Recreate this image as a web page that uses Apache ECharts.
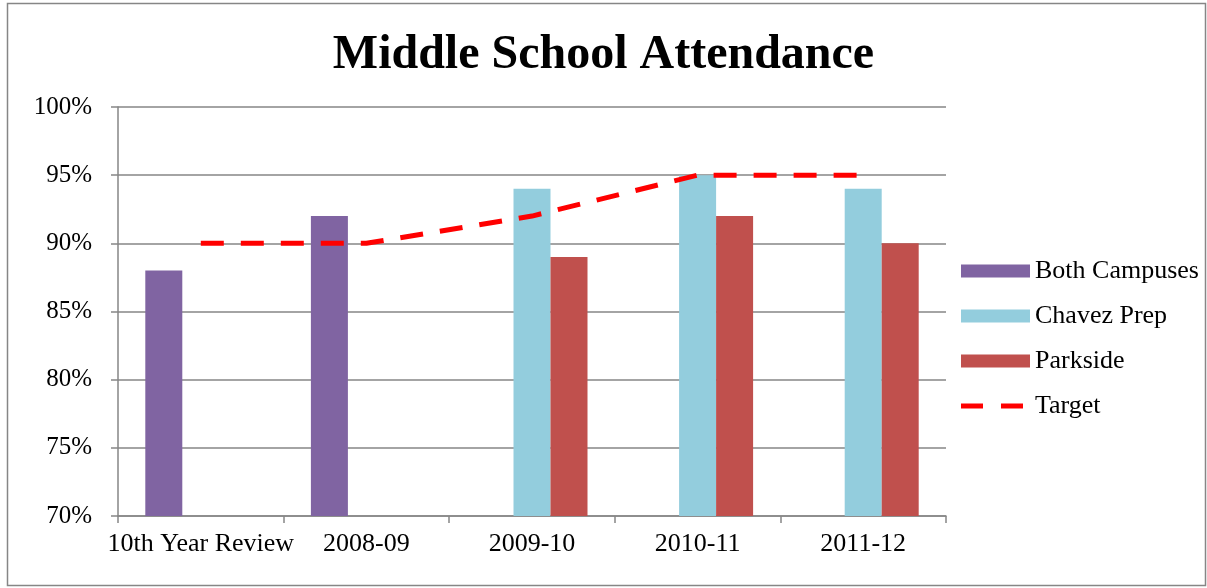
<!DOCTYPE html>
<html>
<head>
<meta charset="utf-8">
<script src="https://cdn.jsdelivr.net/npm/echarts@6/dist/echarts.min.js"></script>
<style>
html,body{margin:0;padding:0;background:#fff;}
#chart{width:1207px;height:588px;}
</style>
</head>
<body>
<div id="chart"></div>
<script>
var categories = ['10th Year Review', '2008-09', '2009-10', '2010-11', '2011-12'];
var bothCampuses = [88, 92, null, null, null];
var chavezPrep = [null, null, 94, 95, 94];
var parkside = [null, null, 89, 92, 90];
var target = [90, 90, 92, 95, 95];
var yTicks = [70, 75, 80, 85, 90, 95, 100];

var FONT = '"Liberation Serif", "Times New Roman", serif';
var chart = echarts.init(document.getElementById('chart'));
chart.setOption({
  animation: false,
  backgroundColor: '#fff',
  textStyle: { fontFamily: FONT },
  graphic: [{
    type: 'rect', silent: true, z: -1,
    shape: { x: 7.5, y: 3.5, width: 1198, height: 582 },
    style: { fill: 'none', stroke: '#868686', lineWidth: 1.5 }
  }],
  title: {
    text: 'Middle School Attendance',
    left: 'center', top: 27,
    textStyle: { fontFamily: FONT, fontSize: 48, fontWeight: 'bold', color: '#000' }
  },
  legend: [{
    orient: 'vertical', left: 956, top: 253,
    itemWidth: 69, itemHeight: 13, itemGap: 19,
    icon: 'rect',
    textStyle: { fontFamily: FONT, fontSize: 26, lineHeight: 26, color: '#000' },
    data: ['Both Campuses', 'Chavez Prep', 'Parkside']
  }, {
    orient: 'vertical', left: 956, top: 388,
    itemWidth: 69, itemHeight: 5,
    icon: 'path://M0,0h22v5h-22z M40,0h22v5h-22z M69,0h0.01v5h-0.01z',
    textStyle: { fontFamily: FONT, fontSize: 26, lineHeight: 26, color: '#000' },
    data: ['Target']
  }],
  grid: { left: 118, right: 261, top: 107, bottom: 72 },
  xAxis: {
    type: 'category',
    data: categories,
    boundaryGap: true,
    axisLine: { lineStyle: { color: '#868686', width: 1.5 } },
    axisTick: { show: true, interval: 0, length: 7, lineStyle: { color: '#868686', width: 1.5 } },
    axisLabel: { interval: 0, hideOverlap: false, fontFamily: FONT, fontSize: 26, color: '#000', margin: 15 },
    splitLine: { show: false }
  },
  yAxis: {
    type: 'value',
    min: 70, max: 100, interval: 5,
    axisLine: { show: true, lineStyle: { color: '#868686', width: 1.5 } },
    axisTick: { show: true, length: 7, lineStyle: { color: '#868686', width: 1.5 } },
    axisLabel: {
      fontFamily: FONT, fontSize: 25, color: '#000', margin: 26,
      formatter: function (v) { return yTicks.indexOf(v) >= 0 ? v + '%' : ''; }
    },
    splitLine: { show: true, lineStyle: { color: '#868686', width: 1.5 } }
  },
  series: [{
    name: 'Both Campuses', type: 'bar', data: bothCampuses,
    barWidth: 37, barGap: '0%',
    itemStyle: { color: '#8064A2' }
  }, {
    name: 'Chavez Prep', type: 'bar', data: chavezPrep,
    barWidth: 37, barGap: '0%',
    itemStyle: { color: '#93CDDD' }
  }, {
    name: 'Parkside', type: 'bar', data: parkside,
    barWidth: 37, barGap: '0%',
    itemStyle: { color: '#C0504D' }
  }, {
    name: 'Target', type: 'line', data: target,
    symbol: 'none', z: 5,
    itemStyle: { color: '#FF0000' },
    lineStyle: { color: '#FF0000', width: 5, type: [23, 17], cap: 'butt' }
  }]
});
</script>
</body>
</html>
